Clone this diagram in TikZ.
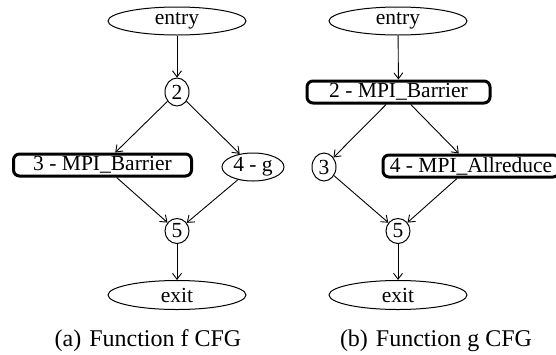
\documentclass[tikz,border=0pt]{standalone}
\usepackage{fontspec}
\setmainfont{Liberation Serif}
\usetikzlibrary{shapes.geometric,arrows.meta}
\begin{document}
\begin{tikzpicture}[x=1pt,y=-1pt,
  every node/.style={font=\fontsize{21.5}{26}\selectfont, inner sep=0pt},
  oval/.style={draw, ellipse, line width=1pt},
  termnode/.style={oval, minimum width=138pt, minimum height=28pt},
  smallnode/.style={oval, minimum width=24pt, minimum height=28pt},
  mpibox/.style={draw, rectangle, rounded corners=6pt, line width=3pt, minimum height=22pt},
  cfgarc/.style={line width=0.9pt, -{Straight Barb[length=6pt,width=9pt,line width=0.9pt]}},
  captext/.style={anchor=base, font=\fontsize{24}{28}\selectfont}
]
\useasboundingbox (0,0) rectangle (556,354);
\clip (0,0) rectangle (556,354);
% left graph
\node[termnode] (entryA) at (177,21) {entry};
\node[smallnode] (n2A) at (177,92) {2};
\node[mpibox, minimum width=178pt] (n3A) at (102.5,165) {3 - MPI\_Barrier};
\node[oval, minimum width=62pt, minimum height=28pt] (n4A) at (253,167) {4 - g};
\node[smallnode, minimum height=25pt] (n5A) at (177,231) {5};
\node[termnode, minimum height=29pt] (exitA) at (177,295) {exit};
\node[captext] (capA) at (148,346) {(a)\hspace{8pt}Function f CFG};
\draw[cfgarc] (entryA) -- (n2A);
\draw[cfgarc] (n2A) -- (n3A);
\draw[cfgarc] (n2A) -- (n4A);
\draw[cfgarc] (n3A) -- (n5A);
\draw[cfgarc] (n4A) -- (n5A);
\draw[cfgarc] (n5A) -- (exitA);
% right graph
\node[termnode] (entryB) at (398,21) {entry};
\node[mpibox, minimum width=183pt] (n2B) at (398.5,92) {2 - MPI\_Barrier};
\node[smallnode] (n3B) at (324,167) {3};
\node[mpibox, minimum width=176pt] (n4B) at (471,166) {4 - MPI\_Allreduce};
\node[smallnode, minimum height=25pt] (n5B) at (398,231) {5};
\node[termnode, minimum height=29pt] (exitB) at (398,295) {exit};
\node[captext] (capB) at (436,346) {(b)\hspace{8pt}Function g CFG};
\draw[cfgarc] (entryB) -- (n2B);
\draw[cfgarc] (n2B) -- (n3B);
\draw[cfgarc] (n2B) -- (n4B);
\draw[cfgarc] (n3B) -- (n5B);
\draw[cfgarc] (n4B) -- (n5B);
\draw[cfgarc] (n5B) -- (exitB);
\end{tikzpicture}
\end{document}
